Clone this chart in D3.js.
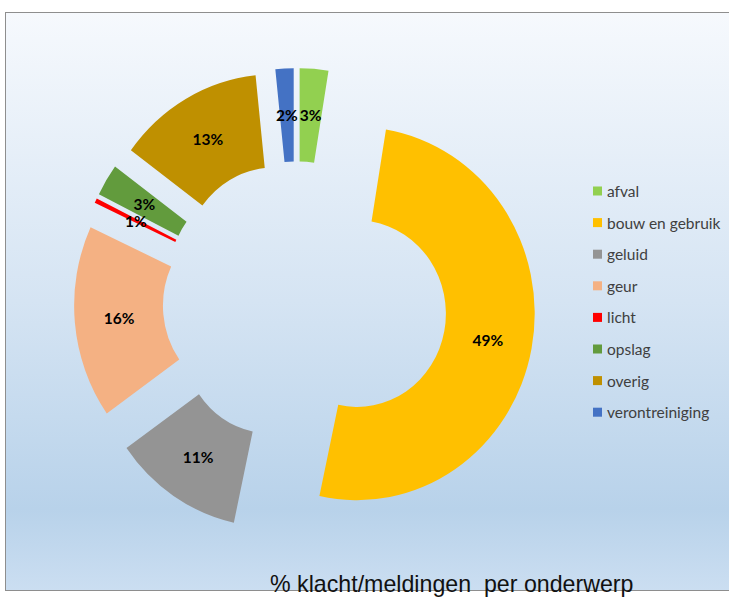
<!DOCTYPE html>
<html>
<head>
<meta charset="utf-8">
<script src="https://cdn.jsdelivr.net/npm/d3@7"></script>
<style>
  html, body { margin: 0; padding: 0; background: #ffffff; }
  svg { display: block; }
</style>
</head>
<body>
<svg id="chart" width="729" height="597"></svg>
<script>
// ---- data ----
const categories = ["afval", "bouw en gebruik", "geluid", "geur", "licht", "opslag", "overig", "verontreiniging"];
const values = [2.6, 50.8, 11.8, 16.7, 0.42, 2.78, 13.25, 1.65];
const valueLabels = ["3%", "49%", "11%", "16%", "1%", "3%", "13%", "2%"];
// point explosion, as a fraction of the outer radius (style)
const explosion = [0.25, 0.35, 0.25, 0.25, 0.25, 0.25, 0.25, 0.25];
const colors = ["#92d050", "#ffc000", "#949494", "#f4b183", "#ff0000", "#629b3d", "#bf9000", "#4472c4"];
const title = "% klacht/meldingen  per onderwerp";

// ---- layout ----
const W = 729, H = 597;
const cx = 296, cy = 301.4;
const rOuter = 186.6, rInner = 93.3;
const sx = 0.952; // horizontal squeeze of the picture

const svg = d3.select("#chart");
const defs = svg.append("defs");
const grad = defs.append("linearGradient").attr("id", "bg").attr("x1", 0).attr("y1", 0).attr("x2", 0).attr("y2", 1);
[[0, "#f6f9fd"], [0.5, "#d5e4f3"], [0.86, "#b8d2ea"], [1, "#cbdef1"]].forEach(([o, c]) =>
  grad.append("stop").attr("offset", o).attr("stop-color", c));

svg.append("rect").attr("x", 5.5).attr("y", 12.5).attr("width", W + 10).attr("height", 578)
  .attr("fill", "url(#bg)").attr("stroke", "#8e8e8e").attr("stroke-width", 1);

const pie = d3.pie().sort(null).value(d => d)(values);
const arc = d3.arc().innerRadius(rInner).outerRadius(rOuter);

function offset(d, i) {
  const m = (d.startAngle + d.endAngle) / 2;
  const e = explosion[i] * rOuter;
  return [e * Math.sin(m), -e * Math.cos(m)];
}

const pieG = svg.append("g").attr("transform", `translate(${cx},${cy}) scale(${sx},1)`);
pieG.selectAll("path").data(pie).join("path")
  .attr("transform", (d, i) => `translate(${offset(d, i)})`)
  .attr("d", arc).attr("fill", (d, i) => colors[i]);

svg.append("g").selectAll("text").data(pie).join("text")
  .attr("transform", (d, i) => {
    const o = offset(d, i), c = arc.centroid(d);
    return `translate(${cx + sx * (o[0] + c[0])},${cy + o[1] + c[1]})`;
  })
  .attr("text-anchor", "middle").attr("dominant-baseline", "central")
  .attr("font-family", "Lato, 'Open Sans', sans-serif").attr("font-weight", "bold")
  .attr("font-size", 15.5).attr("fill", "#000")
  .text((d, i) => valueLabels[i]);

// legend
const legend = svg.append("g").attr("transform", "translate(593,191)");
const rowH = 31.6;
const items = legend.selectAll("g").data(categories).join("g")
  .attr("transform", (d, i) => `translate(0,${i * rowH})`);
items.append("rect").attr("x", 0).attr("y", -4.5).attr("width", 9).attr("height", 9)
  .attr("fill", (d, i) => colors[i]);
items.append("text").attr("x", 14).attr("y", 0).attr("dominant-baseline", "central")
  .attr("font-family", "Lato, 'Open Sans', sans-serif").attr("font-size", 15.5).attr("fill", "#404040")
  .text(d => d);

// title
svg.append("text").attr("x", 270).attr("y", 591.5)
  .attr("font-family", "'Liberation Sans', Arial, sans-serif").attr("font-size", 23.2)
  .attr("fill", "#111").style("white-space", "pre")
  .text(title);
</script>
</body>
</html>
